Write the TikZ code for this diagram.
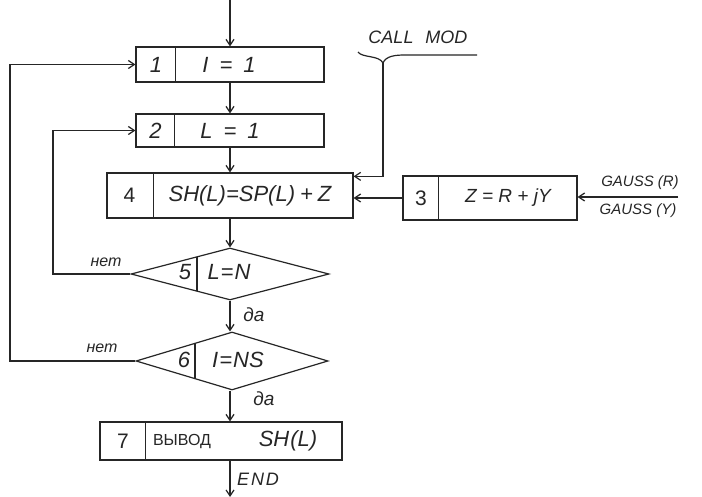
\documentclass[tikz,border=0pt]{standalone}
\usepackage{fontspec}
\setmainfont{Liberation Sans}
\usetikzlibrary{arrows.meta,shapes.geometric}
\begin{document}
\begin{tikzpicture}[x=1pt,y=-1pt,line width=1.2pt,color=black!85,
  box/.style={draw,rectangle,inner sep=0pt},
  dia/.style={draw,diamond,inner sep=0pt},
  arr/.style={-{Straight Barb[length=6pt,width=8pt]}},
  txt/.style={font=\fontsize{22}{26}\selectfont\itshape,inner sep=0pt},
  num/.style={font=\fontsize{21}{25}\selectfont,inner sep=0pt},
  lbl/.style={font=\fontsize{15}{18}\selectfont\itshape,inner sep=0pt},
  sml/.style={font=\fontsize{16}{19}\selectfont,inner sep=0pt}]
\useasboundingbox[fill=white] (0,0) rectangle (702,497);
% boxes
\node[box,minimum width=188pt,minimum height=35pt] (b1) at (230,64.5) {};
\node[box,minimum width=188pt,minimum height=33pt] (b2) at (230,130.5) {};
\node[box,minimum width=246pt,minimum height=45pt] (b4) at (230,195.5) {};
\node[box,minimum width=174pt,minimum height=44pt] (b3) at (490,198) {};
\node[dia,minimum width=198pt,minimum height=52pt] (d5) at (230,274) {};
\node[dia,minimum width=192pt,minimum height=58pt] (d6) at (232,361) {};
\node[box,minimum width=242pt,minimum height=38pt] (b7) at (221,441) {};
% dividers
\draw ([xshift=40pt]b1.north west) -- ([xshift=40pt]b1.south west);
\draw ([xshift=39pt]b2.north west) -- ([xshift=39pt]b2.south west);
\draw ([xshift=47pt]b4.north west) -- ([xshift=47pt]b4.south west);
\draw ([xshift=36pt]b3.north west) -- ([xshift=36pt]b3.south west);
\draw ([xshift=46pt]b7.north west) -- ([xshift=46pt]b7.south west);
\draw ([xshift=-33pt,yshift=17.3pt]d5.center) -- ([xshift=-33pt,yshift=-17.3pt]d5.center);
\draw ([xshift=-37pt,yshift=17.8pt]d6.center) -- ([xshift=-37pt,yshift=-17.8pt]d6.center);
% texts
\node[txt] (n1) at (156,64.5) {1};
\node[txt] (t1) at (229,64.5) {I\hspace{11pt}=\hspace{11pt}1};
\node[txt] (n2) at (155.5,130.5) {2};
\node[txt] (t2) at (230,130.5) {L\hspace{11pt}=\hspace{11pt}1};
\node[num] (n4) at (129.5,195.5) {4};
\node[txt] (t4) at (250,195.5) {SH(L)=SP(L)\hspace{5pt}+\hspace{5pt}Z};
\node[num] (n3) at (421,198) {3};
\node[txt,font=\fontsize{19}{22}\selectfont\itshape] (t3) at (508,198) {Z = R + jY};
\node[txt] (n5) at (185,272) {5};
\node[txt] (t5) at (229,272) {L\hspace{1pt}=\hspace{1pt}N};
\node[txt] (n6) at (184,360) {6};
\node[txt] (t6) at (238,360) {I\hspace{1pt}=\hspace{1pt}NS};
\node[num] (n7) at (123,441) {7};
\node[sml] (t7a) at (182,442) {ВЫВОД};
\node[txt] (t7b) at (288,441) {SH\hspace{1pt}(L)};
% labels
\node[lbl,font=\fontsize{16}{19}\selectfont\itshape] (no5) at (106,262) {нет};
\node[lbl,font=\fontsize{16}{19}\selectfont\itshape] (no6) at (102,348) {нет};
\node[lbl,font=\fontsize{19}{22}\selectfont\itshape] (yes5) at (254,315) {да};
\node[lbl,font=\fontsize{19}{22}\selectfont\itshape] (yes6) at (264,399) {да};
\node[lbl,font=\fontsize{18}{21}\selectfont\itshape] (endl) at (258,479) {E\hspace{2pt}N\hspace{2pt}D};
\node[lbl,font=\fontsize{18}{21}\selectfont\itshape] (call) at (418,37) {CALL\hspace{12pt}MOD};
\node[lbl] (gr) at (640,183) {GAUSS (R)};
\node[lbl] (gy) at (638,211) {GAUSS (Y)};
% coordinates
\coordinate (top) at (230,0);
\coordinate (bot) at (230,497);
\coordinate (L1) at (10,0);
\coordinate (L2) at (53,0);
\coordinate (cm) at (383,63);
\coordinate (g) at (678,197);
% connectors
\draw[arr] (top) -- (b1.north);
\draw[arr] (b1.south) -- (b2.north);
\draw[arr] (b2.south) -- (b4.north);
\draw[arr] (b4.south) -- (d5.north);
\draw[arr] (d5.south) -- (d5.south |- d6.north);
\draw[arr] (d5.south |- d6.south) -- (d5.south |- b7.north);
\draw[arr] (d5.south |- b7.south) -- (bot);
\draw[arr] (d6.west) -- (d6.west -| L1) |- (b1.west);
\draw[arr] (d5.west) -- (d5.west -| L2) |- (b2.west);
\draw[arr] (b3.west) -- (b3.west -| b4.east);
\draw[arr] (g) -- (g -| b3.east);
\draw[arr] (cm) |- ([yshift=-4pt]b4.north east);
\draw (358,52) .. controls (362,58) and (379,55) .. (cm)
      .. controls (386,56) and (395,55) .. (405,55) -- (477,55);
\end{tikzpicture}
\end{document}
